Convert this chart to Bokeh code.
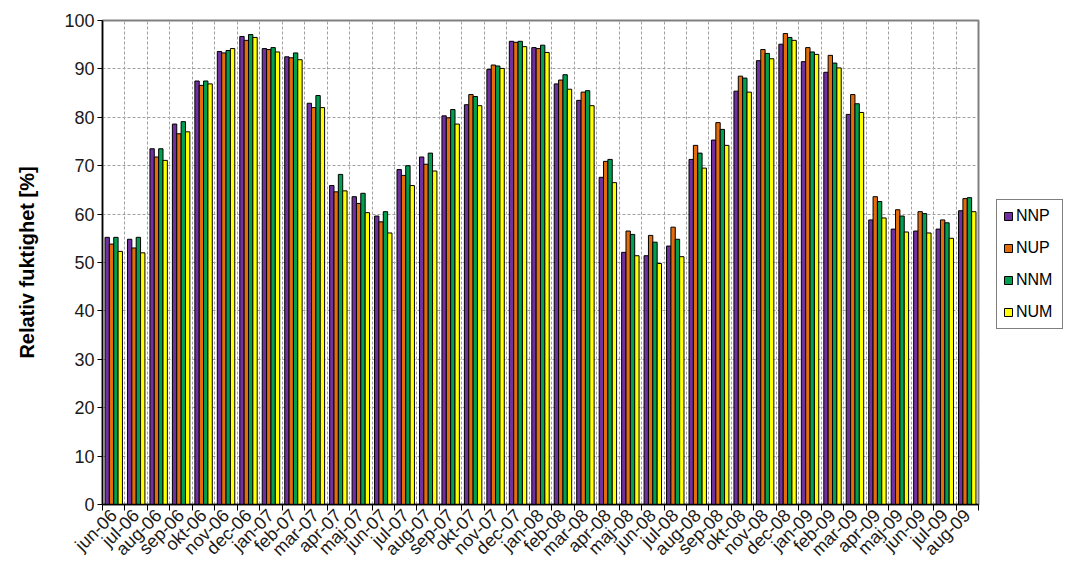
import numpy as np
from math import pi
from bokeh.plotting import figure
from bokeh.layouts import row
from bokeh.models import ColumnDataSource, FixedTicker, Legend, LegendItem, Range1d
from bokeh.transform import dodge
from bokeh.embed import file_html
from bokeh.resources import INLINE

months = ["jun-06", "jul-06", "aug-06", "sep-06", "okt-06", "nov-06", "dec-06",
          "jan-07", "feb-07", "mar-07", "apr-07", "maj-07", "jun-07", "jul-07",
          "aug-07", "sep-07", "okt-07", "nov-07", "dec-07",
          "jan-08", "feb-08", "mar-08", "apr-08", "maj-08", "jun-08", "jul-08",
          "aug-08", "sep-08", "okt-08", "nov-08", "dec-08",
          "jan-09", "feb-09", "mar-09", "apr-09", "maj-09", "jun-09", "jul-09", "aug-09"]

NNP = [55.2, 54.8, 73.5, 78.6, 87.5, 93.6, 96.7, 94.2, 92.5, 82.9, 65.9, 63.6, 59.6, 69.2,
       71.8, 80.3, 82.6, 89.9, 95.7, 94.4, 86.9, 83.5, 67.6, 52.1, 51.4, 53.4, 71.3, 75.3,
       85.4, 91.7, 95.1, 91.5, 89.3, 80.6, 58.8, 56.9, 56.5, 56.9, 60.7]
NUP = [53.8, 53.0, 71.8, 76.6, 86.6, 93.3, 95.9, 94.0, 92.3, 82.0, 64.6, 62.2, 58.4, 68.0,
       70.3, 79.9, 84.7, 90.8, 95.5, 94.2, 87.7, 85.2, 70.9, 56.5, 55.6, 57.3, 74.2, 78.9,
       88.5, 94.0, 97.3, 94.4, 92.8, 84.7, 63.6, 60.9, 60.5, 58.8, 63.2]
NNM = [55.2, 55.2, 73.5, 79.1, 87.5, 93.8, 97.1, 94.4, 93.3, 84.5, 68.2, 64.3, 60.5, 70.0,
       72.6, 81.6, 84.3, 90.6, 95.7, 94.9, 88.8, 85.5, 71.3, 55.8, 54.2, 54.8, 72.6, 77.5,
       88.1, 93.2, 96.5, 93.5, 91.2, 82.8, 62.6, 59.6, 60.1, 58.2, 63.4]
NUM = [52.3, 52.0, 71.1, 77.0, 86.9, 94.2, 96.5, 93.5, 91.9, 82.0, 64.8, 60.3, 56.1, 65.9,
       68.9, 78.6, 82.4, 90.1, 94.6, 93.4, 85.8, 82.4, 66.5, 51.4, 49.8, 51.2, 69.5, 74.2,
       85.2, 92.1, 95.9, 93.0, 90.2, 81.0, 59.2, 56.3, 56.1, 55.0, 60.5]

series = ["NNP", "NUP", "NNM", "NUM"]
colors = ["#7030A0", "#E46C0A", "#00A050", "#FFFF00"]

n = len(months)
idx = list(range(n))
source = ColumnDataSource(dict(x=idx, NNP=NNP, NUP=NUP, NNM=NNM, NUM=NUM))

FONT = "Liberation Sans"

p = figure(width=990, height=571,
           x_range=Range1d(-0.5, n - 0.5), y_range=Range1d(0, 100),
           output_backend="svg", toolbar_location=None,
           min_border_left=102, min_border_top=20, min_border_bottom=67, min_border_right=12)

bw = 0.194
offsets = [-1.5 * bw, -0.5 * bw, 0.5 * bw, 1.5 * bw]
for s, c, off in zip(series, colors, offsets):
    p.vbar(x=dodge("x", off), top=s, width=bw, source=source,
           fill_color=c, line_color="#000000", line_width=1)

# x axis: labels at centers, ticks at boundaries
xt = FixedTicker(ticks=idx, minor_ticks=[i - 0.5 for i in range(n + 1)])
p.xaxis.ticker = xt
p.xaxis.major_label_overrides = {i: m for i, m in enumerate(months)}
p.xaxis.major_label_orientation = pi / 4
p.xaxis.major_tick_out = 0
p.xaxis.major_tick_in = 0
p.xaxis.minor_tick_out = 6
p.xaxis.minor_tick_in = 0
p.xaxis.minor_tick_line_color = "#000000"
p.xaxis.major_label_standoff = 2
p.xaxis.major_label_text_font_size = "18px"

p.yaxis.ticker = FixedTicker(ticks=list(range(0, 101, 10)))
p.yaxis.major_tick_out = 5
p.yaxis.major_tick_in = 0
p.yaxis.minor_tick_line_color = None
p.yaxis.major_label_standoff = 3
p.yaxis.major_label_text_font_size = "18px"
p.yaxis.axis_label = "Relativ fuktighet [%]"
p.yaxis.axis_label_text_font = FONT
p.yaxis.axis_label_text_font_style = "bold"
p.yaxis.axis_label_text_font_size = "20px"
p.yaxis.axis_label_text_color = "#000000"
p.yaxis.axis_label_standoff = 23

for ax in (p.xaxis, p.yaxis):
    ax.major_label_text_font = FONT
    ax.major_label_text_color = "#1a1a1a"
    ax.axis_line_color = "#000000"
    ax.axis_line_width = 1.5
    ax.major_tick_line_color = "#000000"

p.xgrid.grid_line_color = None
p.xgrid.minor_grid_line_color = "#A0A0A0"
p.xgrid.minor_grid_line_dash = "3 2"
p.ygrid.grid_line_color = "#A0A0A0"
p.ygrid.grid_line_dash = "3 2"

p.outline_line_color = "#808080"
p.outline_line_width = 2

# legend panel to the right of the chart
q = figure(width=77, height=571, x_range=Range1d(0, 1), y_range=Range1d(0, 1),
           output_backend="svg", toolbar_location=None,
           x_axis_location=None, y_axis_location=None,
           min_border_left=0, min_border_right=0, min_border_top=0, min_border_bottom=0)
q.grid.visible = False
q.outline_line_color = None
items = []
# legend-only renderers: one point placed outside the visible range of this panel
hidden = ColumnDataSource(dict(x=[5], top=[5]))
for s, c in zip(series, colors):
    r = q.vbar(x="x", top="top", width=0.1, source=hidden,
               fill_color=c, line_color="#000000", line_width=1)
    items.append(LegendItem(label=s, renderers=[r]))

legend = Legend(items=items, location=(6, 175), orientation="vertical")
legend.label_text_font = FONT
legend.label_text_font_size = "16px"
legend.label_text_color = "#000000"
legend.glyph_width = 10
legend.glyph_height = 10
legend.label_height = 20
legend.label_width = 40
legend.label_standoff = 3
legend.spacing = 12
legend.padding = 6
legend.margin = 0
legend.border_line_color = "#000000"
legend.border_line_width = 1
legend.background_fill_alpha = 1
q.add_layout(legend, "center")

layout = row(p, q)
open("out.html", "w").write(file_html(layout, INLINE))
